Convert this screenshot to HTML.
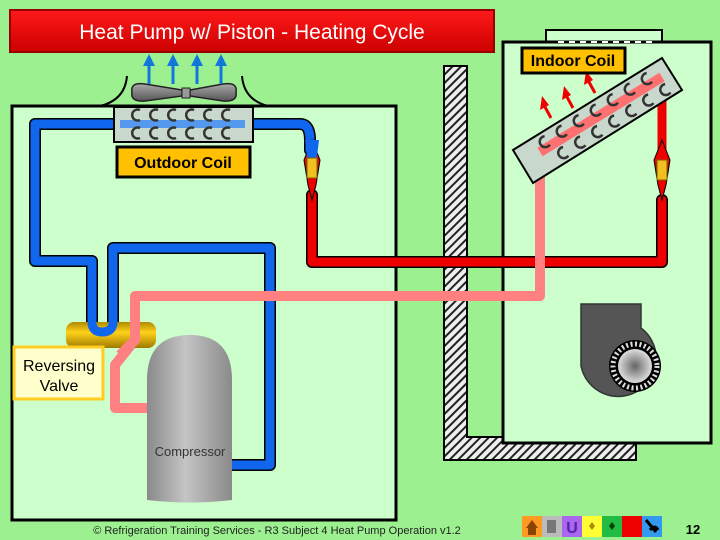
<!DOCTYPE html>
<html><head><meta charset="utf-8"><style>
html,body{margin:0;padding:0;background:#9cf090;}
svg{display:block;font-family:"Liberation Sans",sans-serif;}
</style></head><body>
<svg width="720" height="540" viewBox="0 0 720 540" xmlns="http://www.w3.org/2000/svg">
<defs>
<linearGradient id="tg" x1="0" y1="0" x2="0" y2="1"><stop offset="0" stop-color="#ff1a1a"/><stop offset="1" stop-color="#cc0000"/></linearGradient>
<linearGradient id="cg" x1="0" y1="0" x2="1" y2="0"><stop offset="0" stop-color="#8a8a8a"/><stop offset="0.45" stop-color="#c4c4c4"/><stop offset="1" stop-color="#8a8a8a"/></linearGradient>
<linearGradient id="vg" x1="0" y1="0" x2="0" y2="1"><stop offset="0" stop-color="#b08a00"/><stop offset="0.4" stop-color="#ffd21a"/><stop offset="1" stop-color="#a07a00"/></linearGradient>
<linearGradient id="fg" x1="0" y1="0" x2="0" y2="1"><stop offset="0" stop-color="#aaa"/><stop offset="1" stop-color="#555"/></linearGradient>
<radialGradient id="wg"><stop offset="0" stop-color="#666"/><stop offset="1" stop-color="#ddd"/></radialGradient>
<pattern id="hatch" width="6" height="6" patternUnits="userSpaceOnUse" patternTransform="rotate(45)"><rect width="6" height="6" fill="#eee"/><rect width="2" height="6" fill="#222"/></pattern>
<path id="cc" d="M4 -5 A5.5 5.5 0 1 0 4 5" fill="none" stroke="#333" stroke-width="2.5"/>
</defs>
<rect width="720" height="540" fill="#9cf090"/>
<rect x="10" y="10" width="484" height="42" fill="url(#tg)" stroke="#990000" stroke-width="2"/>
<text x="252" y="39" font-size="21" fill="#fff" text-anchor="middle">Heat Pump w/ Piston - Heating Cycle</text>
<rect x="12" y="106" width="384" height="414" fill="#ccffcc" stroke="#000" stroke-width="3"/>
<path d="M127 76 Q125 100 100 106" fill="none" stroke="#000" stroke-width="2"/>
<path d="M242 76 Q244 100 268 106" fill="none" stroke="#000" stroke-width="2"/>
<path d="M132 92 Q130 82 145 84 L182 90 L182 96 L145 101 Q130 102 132 92Z" fill="url(#fg)" stroke="#222" stroke-width="1.5"/>
<path d="M236 92 Q238 82 223 84 L190 90 L190 96 L223 101 Q238 102 236 92Z" fill="url(#fg)" stroke="#222" stroke-width="1.5"/>
<rect x="182" y="88" width="8" height="10" fill="#999" stroke="#222"/>
<g fill="#1177dd" stroke="#1177dd">
<line x1="149" y1="84" x2="149" y2="64" stroke-width="3"/><polygon points="143,66 155,66 149,54" stroke="none"/>
<line x1="173" y1="84" x2="173" y2="64" stroke-width="3"/><polygon points="167,66 179,66 173,54" stroke="none"/>
<line x1="197" y1="84" x2="197" y2="64" stroke-width="3"/><polygon points="191,66 203,66 197,54" stroke="none"/>
<line x1="221" y1="84" x2="221" y2="64" stroke-width="3"/><polygon points="215,66 227,66 221,54" stroke="none"/>
</g>
<path d="M444 66 H467 V437 H636 V460 H444 Z" fill="url(#hatch)" stroke="#000" stroke-width="2"/>
<rect x="546" y="30" width="116" height="14" fill="#ccffcc" stroke="#000" stroke-width="2"/>
<rect x="503" y="42" width="208" height="401" fill="#ccffcc" stroke="#000" stroke-width="3"/>
<line x1="558" y1="42" x2="652" y2="42" stroke="#fff" stroke-width="2" stroke-dasharray="6,5"/>
<g fill="none" stroke-linejoin="round" stroke-linecap="round">
<path d="M120 124 H35 V261 H92 V322 Q92 332 102 332 Q113 332 113 322 V248 H270 V465 H232" stroke="#000" stroke-width="12"/>
<path d="M120 124 H35 V261 H92 V322 Q92 332 102 332 Q113 332 113 322 V248 H270 V465 H232" stroke="#1166ee" stroke-width="9"/>
<path d="M253 124 H300 Q310 124 310 140 V150" stroke="#000" stroke-width="12"/>
<path d="M253 124 H300 Q310 124 310 140 V150" stroke="#1166ee" stroke-width="9"/>
<path d="M312 195 V262 H662 V200" stroke="#000" stroke-width="12"/>
<path d="M312 195 V262 H662 V200" stroke="#ee0000" stroke-width="9"/>
<path d="M662 150 V75" stroke="#ee0000" stroke-width="9"/>
<path d="M148 408 H115 V365 L135 340 V296 H540 V150" stroke="#ff8080" stroke-width="10"/>
</g>
<rect x="66" y="322" width="90" height="26" rx="8" fill="url(#vg)"/>
<path d="M92 322 Q92 332 102 332 Q113 332 113 322" fill="none" stroke="#1166ee" stroke-width="9"/>
<path d="M135 322 V340 L120 355" fill="none" stroke="#ff8080" stroke-width="10"/>
<path d="M312 140 L320 160 L316 185 L312 200 L308 185 L304 160Z" fill="#ee0000" stroke="#000" stroke-width="1"/>
<path d="M305 140 L319 140 L316 165 L308 165Z" fill="#1166ee"/>
<rect x="307" y="158" width="10" height="20" fill="#f0c020" stroke="#806000" stroke-width="1"/>
<path d="M662 140 L670 160 L666 185 L662 200 L658 185 L654 160Z" fill="#ee0000" stroke="#000" stroke-width="1"/>
<rect x="657" y="160" width="10" height="20" fill="#f0c020" stroke="#806000" stroke-width="1"/>
<!-- outdoor coil -->
<rect x="114" y="107" width="139" height="35" fill="#c8d8cc" stroke="#000" stroke-width="2"/>
<rect x="120" y="120" width="125" height="8" fill="#5599ee"/>
<g>
<use href="#cc" x="136" y="115"/><use href="#cc" x="154" y="115"/><use href="#cc" x="172" y="115"/><use href="#cc" x="190" y="115"/><use href="#cc" x="208" y="115"/><use href="#cc" x="226" y="115"/>
<use href="#cc" x="136" y="133"/><use href="#cc" x="154" y="133"/><use href="#cc" x="172" y="133"/><use href="#cc" x="190" y="133"/><use href="#cc" x="208" y="133"/><use href="#cc" x="226" y="133"/>
</g>
<rect x="117" y="147" width="133" height="30" fill="#ffc000" stroke="#000" stroke-width="3"/>
<text x="183" y="168" font-size="16" font-weight="bold" text-anchor="middle">Outdoor Coil</text>
<!-- indoor coil -->
<polygon points="513,150 662,58 682,90 533,183" fill="#c8d8cc" stroke="#000" stroke-width="2"/>
<line x1="540" y1="152" x2="662" y2="77" stroke="#ff7070" stroke-width="10"/>
<g transform="translate(523,166) rotate(-31.7)">
<use href="#cc" x="30" y="-9"/><use href="#cc" x="50" y="-9"/><use href="#cc" x="70" y="-9"/><use href="#cc" x="90" y="-9"/><use href="#cc" x="110" y="-9"/><use href="#cc" x="130" y="-9"/><use href="#cc" x="150" y="-9"/>
<use href="#cc" x="40" y="10"/><use href="#cc" x="60" y="10"/><use href="#cc" x="80" y="10"/><use href="#cc" x="100" y="10"/><use href="#cc" x="120" y="10"/><use href="#cc" x="140" y="10"/><use href="#cc" x="160" y="10"/>
</g>
<g fill="#ee0000" stroke="#ee0000">
<line x1="551" y1="118" x2="545" y2="107" stroke-width="3"/><polygon points="540,110 549,105 542,96" stroke="none"/>
<line x1="573" y1="108" x2="567" y2="97" stroke-width="3"/><polygon points="562,100 571,95 564,86" stroke="none"/>
<line x1="595" y1="93" x2="589" y2="82" stroke-width="3"/><polygon points="584,85 593,80 586,71" stroke="none"/>
</g>
<rect x="522" y="48" width="103" height="25" fill="#ffc000" stroke="#000" stroke-width="3"/>
<text x="573" y="66" font-size="16" font-weight="bold" text-anchor="middle">Indoor Coil</text>
<path d="M147 500 V380 Q147 335 190 335 Q232 335 232 380 V500 Q190 505 147 500Z" fill="url(#cg)"/>
<text x="190" y="456" font-size="13" fill="#333" text-anchor="middle">Compressor</text>
<rect x="14" y="347" width="89" height="52" fill="#ffffcc" stroke="#ffcc22" stroke-width="3"/>
<text x="59" y="371" font-size="16" text-anchor="middle">Reversing</text>
<text x="59" y="391" font-size="16" text-anchor="middle">Valve</text>
<path d="M581 304 H641 V328 A38 38 0 1 1 581 366 Z" fill="#555" stroke="#333" stroke-width="1.5"/>
<circle cx="635" cy="366" r="26" fill="#000"/>
<circle cx="635" cy="366" r="22" fill="none" stroke="#ddd" stroke-width="5" stroke-dasharray="2,2.5"/>
<circle cx="635" cy="366" r="17" fill="url(#wg)"/>
<text x="277" y="534" font-size="11" fill="#222" text-anchor="middle">© Refrigeration Training Services - R3 Subject 4 Heat Pump Operation v1.2</text>
<rect x="522" y="516" width="20" height="21" fill="#ff9922"/>
<polygon points="526,528 532,520 538,528" fill="#884400"/><rect x="528" y="528" width="8" height="7" fill="#884400"/>
<rect x="542" y="516" width="20" height="21" fill="#bbbbbb"/><rect x="547" y="520" width="9" height="13" fill="#777"/>
<rect x="562" y="516" width="20" height="21" fill="#aa66ee"/><text x="572" y="533" font-size="16" font-weight="bold" fill="#5522aa" text-anchor="middle">U</text>
<rect x="582" y="516" width="20" height="21" fill="#ffff33"/><polygon points="592,522 595,526 592,530 589,526" fill="#aa8800"/>
<rect x="602" y="516" width="20" height="21" fill="#22bb44"/><polygon points="612,522 615,526 612,530 609,526" fill="#004400"/>
<rect x="622" y="516" width="20" height="21" fill="#ee0000"/>
<rect x="642" y="516" width="20" height="21" fill="#3399ee"/><path d="M646 520 L656 532 M650 530 Q655 524 658 530" stroke="#000" stroke-width="3" fill="none"/>
<text x="693" y="534" font-size="13" font-weight="bold" text-anchor="middle">12</text>
</svg>
</body></html>
